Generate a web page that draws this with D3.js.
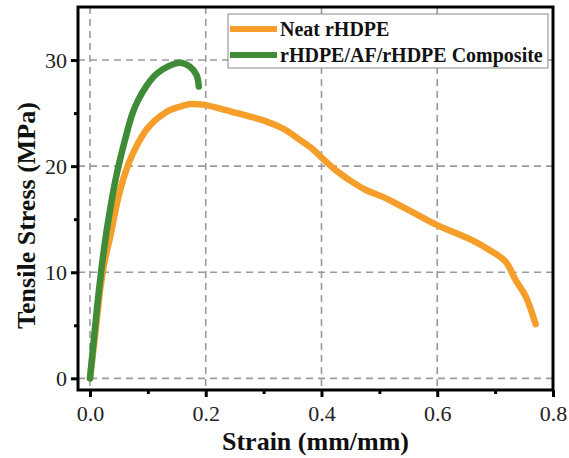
<!DOCTYPE html>
<html>
<head>
<meta charset="utf-8">
<script src="https://cdn.jsdelivr.net/npm/d3@7"></script>
<style>
  html, body { margin: 0; padding: 0; background: #fff; }
  svg { display: block; }
</style>
</head>
<body>
<svg id="chart" width="569" height="458"></svg>
<script>
// Tensile stress–strain curves
const neatStrain = [0, 0.006, 0.012, 0.018, 0.026, 0.036, 0.047, 0.06, 0.075, 0.1, 0.132, 0.155, 0.175, 0.195, 0.22, 0.247, 0.275, 0.305, 0.335, 0.362, 0.385, 0.402, 0.425, 0.448, 0.475, 0.506, 0.535, 0.563, 0.59, 0.618, 0.64, 0.661, 0.69, 0.718, 0.736, 0.753, 0.77];
const neatStress = [0, 2.7, 5.6, 8.5, 11.2, 13.6, 16.6, 19.2, 21.3, 23.6, 25.1, 25.6, 25.85, 25.8, 25.5, 25.1, 24.7, 24.2, 23.5, 22.5, 21.6, 20.7, 19.6, 18.7, 17.8, 17.1, 16.3, 15.5, 14.7, 14.0, 13.5, 13.0, 12.1, 11.0, 9.2, 7.7, 5.1];

const compStrain = [0, 0.008, 0.0155, 0.025, 0.035, 0.046, 0.063, 0.073, 0.083, 0.098, 0.115, 0.135, 0.155, 0.172, 0.184, 0.188];
const compStress = [0, 4.4, 8.3, 12.5, 16.0, 19.2, 23.0, 24.9, 26.2, 27.6, 28.7, 29.4, 29.75, 29.4, 28.6, 27.5];

const seriesNames = ["Neat rHDPE", "rHDPE/AF/rHDPE Composite"];
const seriesColors = ["#F59E2A", "#3F8B37"];

const xTicks = [0, 0.2, 0.4, 0.6, 0.8];
const xMinor = [0.1, 0.3, 0.5, 0.7];
const yTicks = [0, 10, 20, 30];
const yMinor = [5, 15, 25];

const svg = d3.select("#chart");
const L = 78, R = 553, T = 7, B = 390;

const x = d3.scaleLinear().domain([-0.0207, 0.8]).range([L, R]);
const y = d3.scaleLinear().domain([-1.1, 35]).range([B, T]);

const serif = "'Liberation Serif', 'Times New Roman', serif";

// grid
const grid = svg.append("g").attr("stroke", "#9a9a9a").attr("stroke-width", 1.6).attr("stroke-dasharray", "7,5");
grid.selectAll("line.h").data(yTicks).join("line")
  .attr("x1", L).attr("x2", R).attr("y1", d => y(d)).attr("y2", d => y(d));
grid.selectAll("line.v").data(xTicks.filter(d => d < 0.8)).join("line")
  .attr("y1", T).attr("y2", B).attr("x1", d => x(d)).attr("x2", d => x(d));

// axes
const xAxis = svg.append("g").attr("transform", `translate(0,${B})`)
  .call(d3.axisBottom(x).tickValues(xTicks).tickFormat(d3.format(".1f")).tickSize(7).tickPadding(8));
const xAxisMinor = svg.append("g").attr("transform", `translate(0,${B})`)
  .call(d3.axisBottom(x).tickValues(xMinor).tickFormat("").tickSize(4));
const yAxis = svg.append("g").attr("transform", `translate(${L},0)`)
  .call(d3.axisLeft(y).tickValues(yTicks).tickFormat(d3.format("d")).tickSize(7).tickPadding(4));
const yAxisMinor = svg.append("g").attr("transform", `translate(${L},0)`)
  .call(d3.axisLeft(y).tickValues(yMinor).tickFormat("").tickSize(4));

[xAxis, xAxisMinor, yAxis, yAxisMinor].forEach(g => {
  g.select(".domain").remove();
  g.selectAll(".tick line").attr("stroke", "#000").attr("stroke-width", 3);
  g.selectAll(".tick text").attr("font-family", serif).attr("font-size", 22).attr("fill", "#222");
});

// curves
const line = d3.line().x(d => x(d[0])).y(d => y(d[1])).curve(d3.curveCatmullRom.alpha(0.5));
const series = [
  d3.zip(neatStrain, neatStress),
  d3.zip(compStrain, compStress)
];
svg.append("g").selectAll("path").data(series).join("path")
  .attr("d", line)
  .attr("fill", "none")
  .attr("stroke", (d, i) => seriesColors[i])
  .attr("stroke-width", 6.5)
  .attr("stroke-linecap", "round")
  .attr("stroke-linejoin", "round");

// frame
svg.append("rect").attr("x", L).attr("y", T).attr("width", R - L).attr("height", B - T)
  .attr("fill", "none").attr("stroke", "#000").attr("stroke-width", 3);

// legend
const lg = svg.append("g");
lg.append("rect").attr("x", 228).attr("y", 14).attr("width", 320).attr("height", 54)
  .attr("fill", "#fff").attr("stroke", "#888").attr("stroke-width", 1);
seriesNames.forEach((name, i) => {
  const cy = 29 + i * 26;
  lg.append("line").attr("x1", 230).attr("x2", 277).attr("y1", cy).attr("y2", cy)
    .attr("stroke", seriesColors[i]).attr("stroke-width", 6);
  lg.append("text").attr("x", 280).attr("y", cy + 7)
    .attr("font-family", serif).attr("font-weight", "bold").attr("font-size", 20)
    .attr("fill", "#111").text(name);
});

// axis titles
svg.append("text").attr("x", (L + R) / 2).attr("y", 450).attr("text-anchor", "middle")
  .attr("font-family", serif).attr("font-weight", "bold").attr("font-size", 26).attr("fill", "#111")
  .text("Strain (mm/mm)");
svg.append("text").attr("transform", `translate(35,${(T + B) / 2 + 17}) rotate(-90)`).attr("text-anchor", "middle")
  .attr("font-family", serif).attr("font-weight", "bold").attr("font-size", 26).attr("fill", "#111")
  .text("Tensile Stress (MPa)");
</script>
</body>
</html>
